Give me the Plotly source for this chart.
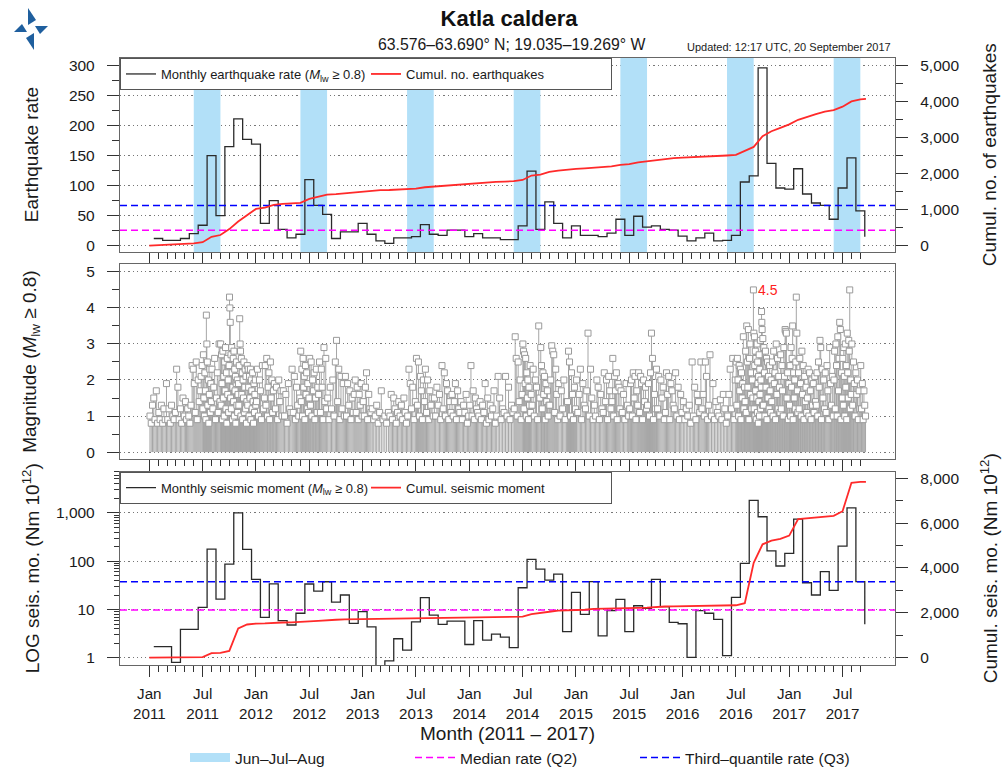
import numpy as np
import plotly.graph_objects as go

# ---------------- data ----------------
month_index = list(range(81))          # 0 = Jan 2011 ... 80 = Sep 2017
data_end_month = 80.63                 # data up to 20 September 2017

tick_months = [0, 6, 12, 18, 24, 30, 36, 42, 48, 54, 60, 66, 72, 78]
tick_labels = ["Jan<br>2011", "Jul<br>2011", "Jan<br>2012", "Jul<br>2012", "Jan<br>2013",
               "Jul<br>2013", "Jan<br>2014", "Jul<br>2014", "Jan<br>2015", "Jul<br>2015",
               "Jan<br>2016", "Jul<br>2016", "Jan<br>2017", "Jul<br>2017"]

quake_rate = [12, 9, 9, 12, 20, 34, 150, 50, 165, 211, 177, 169,
              37, 75, 27, 13, 19, 110, 67, 52, 12, 23, 23, 37,
              19, 8, 4, 13, 13, 15, 35, 19, 17, 26, 26, 15,
              20, 13, 13, 10, 10, 33, 124, 27, 73, 37, 13, 33,
              17, 17, 15, 21, 44, 17, 49, 31, 33, 27, 26, 16,
              8, 13, 21, 8, 9, 17, 106, 116, 296, 137, 96, 94,
              128, 86, 71, 67, 44, 96, 146, 58, 15]

seismic_moment = [1.71, 1.71, 0.81, 3.9, 3.9, 11.1, 178, 16.5, 87, 1000, 176, 42,
                  6.9, 34, 5.9, 4.8, 8.4, 33.8, 24, 37.6, 14.3, 20, 5.2, 9.1,
                  4.4, 0.5, 0.87, 2.5, 1.46, 5.6, 17.6, 7.7, 4.95, 5.8, 5.8, 1.9,
                  5.9, 2.35, 3.1, 2.7, 1.63, 28.3, 109, 68.8, 40.8, 54.2, 3.5, 22.7,
                  8.0, 37.7, 2.85, 9.5, 16.3, 3.5, 12.0, 10.6, 42, 11.5, 5.45, 5.1,
                  1.03, 9.5, 8.4, 6.3, 1.12, 17.9, 90, 1800, 828, 164, 79.5, 145,
                  740, 35.9, 20, 60.6, 25, 205, 1270, 37.7, 4.96]

summer_start = [5, 17, 29, 41, 53, 65, 77]   # June of each year (month index)
summer_length = 3                             # Jun-Jul-Aug

median_rate = 25.6
q3_rate = 66.7
median_moment = 9.8
q3_moment = 37.7

# event magnitudes, per month, in time order
mag_2011 = [
    [1.0, 0.8, 1.3, 1.5, 0.9, 1.7, 0.8],
    [1.1, 0.9, 1.3, 0.8, 1.2, 0.9, 1.9],
    [0.9, 1.2, 0.8, 1.3, 1.0, 0.9, 1.1],
    [2.3, 1.8, 0.9, 1.2, 0.8, 1.5, 1.0],
    [1.4, 0.9, 1.2, 1.0, 0.8, 1.3, 2.4, 2.3],
    [1.9, 1.1, 2.5, 0.9, 2.0, 1.4, 1.7, 2.1, 2.4],
    [1.2, 2.7, 1.5, 1.0, 2.2, 1.7, 0.9, 3.8, 3.0, 2.5, 1.3, 2.0, 0.8, 1.6, 2.3, 1.1, 1.9, 1.4],
    [2.3, 1.2, 1.8, 2.6, 0.9, 1.5, 2.2, 1.1, 3.0, 1.4],
    [3.0, 1.3, 2.7, 1.9, 0.9, 2.8, 1.5, 2.1, 1.0, 2.5, 1.7, 2.9, 1.2, 2.2, 0.8, 2.6, 1.6, 2.0, 1.1, 2.4],
    [4.3, 4.0, 3.6, 1.5, 2.7, 1.2, 2.9, 2.2, 0.9, 1.8, 2.6, 1.4, 2.8, 1.0, 2.3, 1.7, 2.1, 0.8, 1.9, 2.5, 1.3, 2.0, 1.1, 1.6],
    [1.9, 1.3, 2.4, 3.7, 3.0, 2.8, 1.0, 2.6, 1.6, 2.2, 0.9, 2.0, 1.5, 2.5, 1.1, 1.8, 2.3, 1.2, 2.1, 0.8, 1.4],
    [2.4, 1.3, 2.3, 1.8, 1.0, 2.1, 1.5, 2.3, 0.9, 2.0, 1.7, 1.2, 2.2, 1.4, 0.8, 1.9, 1.1, 1.6, 2.0, 1.3],
]
mag_2012 = [
    [1.4, 2.3, 1.0, 2.0, 1.7, 0.9, 2.4, 1.2, 1.5],
    [2.4, 1.3, 2.6, 1.0, 1.8, 2.2, 0.9, 2.5, 1.5, 2.0, 1.1, 1.7],
    [1.9, 1.2, 1.8, 0.9, 2.0, 1.4, 1.7, 1.0],
    [1.7, 1.0, 1.6, 0.8, 1.9, 1.2, 1.1],
    [2.3, 1.1, 2.1, 0.9, 1.8, 1.3, 1.0, 1.5],
    [2.8, 1.4, 2.3, 1.0, 2.6, 1.8, 2.1, 0.9, 2.4, 1.6, 2.2, 1.2, 1.9, 1.1, 1.5],
    [2.6, 1.3, 2.5, 1.0, 2.0, 1.7, 2.2, 0.9, 1.5, 2.3, 1.1, 1.8],
    [1.6, 2.5, 1.1, 2.3, 1.8, 0.9, 2.9, 1.4, 2.6, 1.2],
    [1.5, 0.9, 1.8, 1.2, 2.0, 1.0, 2.5],
    [3.1, 1.4, 2.3, 0.9, 2.1, 1.2, 1.9, 1.0],
    [2.1, 1.0, 1.9, 1.3, 1.7, 0.9, 1.5, 1.1],
    [1.6, 2.0, 1.1, 1.8, 0.9, 1.6, 1.3, 1.9, 1.0],
]
mag_2013 = [
    [1.4, 1.0, 1.8, 2.2, 0.9, 1.6, 1.2, 1.1],
    [1.2, 0.9, 1.0, 1.3, 0.8, 1.1],
    [1.7, 0.9, 1.0, 0.8, 1.1],
    [1.0, 1.6, 0.9, 1.5, 1.2, 0.8, 1.1],
    [1.4, 1.0, 1.3, 0.9, 1.5, 1.1, 0.8],
    [1.0, 2.3, 1.9, 1.2, 1.8, 0.9, 1.4],
    [2.6, 1.3, 2.5, 1.0, 2.1, 1.7, 0.9, 2.0, 1.4],
    [2.3, 1.1, 2.0, 0.9, 1.7, 1.3, 1.5, 1.0],
    [1.5, 1.0, 1.8, 1.3, 1.6, 0.9, 2.4],
    [1.2, 2.2, 1.0, 1.9, 1.7, 0.9, 1.4, 1.1],
    [1.6, 1.0, 1.4, 1.9, 0.9, 1.7, 1.2, 1.1],
    [1.4, 0.9, 1.3, 1.1, 1.6, 0.8, 1.0],
]
mag_2014 = [
    [1.3, 2.4, 1.0, 1.7, 0.9, 1.5, 1.2, 1.1],
    [1.0, 1.4, 0.9, 1.3, 1.1, 1.9, 0.8],
    [1.5, 0.9, 1.3, 1.0, 1.2, 1.7, 0.8],
    [1.0, 2.1, 1.5, 0.9, 1.2, 1.1],
    [2.1, 1.0, 1.8, 0.9, 1.3, 1.1],
    [1.2, 3.2, 2.6, 1.0, 2.5, 1.4, 2.0, 0.9, 1.6],
    [3.0, 2.8, 1.2, 2.7, 1.9, 2.6, 1.0, 2.2, 1.5, 2.0, 0.9, 1.8, 1.3, 2.4, 1.1, 1.6],
    [1.3, 2.3, 1.0, 2.0, 1.8, 0.9, 3.5, 1.5],
    [2.9, 2.4, 1.2, 2.2, 1.6, 2.1, 0.9, 1.9, 1.4, 1.7, 1.0, 1.3],
    [1.3, 2.0, 2.95, 2.8, 2.7, 1.1, 2.3, 1.6, 0.9],
    [1.9, 1.0, 1.7, 1.2, 2.0, 0.9, 1.4],
    [1.4, 2.8, 2.5, 1.0, 2.2, 1.6, 0.9, 1.8, 1.2],
]
mag_2015 = [
    [2.0, 1.1, 1.6, 2.3, 0.9, 1.9, 1.3],
    [1.2, 1.7, 3.3, 1.0, 2.3, 1.5, 0.9],
    [1.3, 1.0, 2.0, 1.8, 0.9, 1.6, 1.2],
    [1.1, 2.2, 1.4, 2.0, 0.9, 2.1, 1.7, 1.2],
    [1.4, 2.6, 1.0, 2.1, 1.7, 2.2, 0.9, 1.9, 1.8, 1.2],
    [1.7, 1.1, 1.6, 0.9, 1.9, 1.3, 1.0],
    [1.2, 1.9, 2.0, 1.0, 2.2, 1.5, 2.1, 0.9, 1.7, 1.3],
    [2.2, 1.1, 2.1, 1.9, 0.9, 2.0, 1.4, 1.8, 1.2],
    [1.3, 1.9, 1.0, 2.2, 3.3, 2.6, 0.9, 1.6, 1.2],
    [2.3, 1.2, 2.1, 1.0, 2.0, 1.5, 1.8, 0.9],
    [1.1, 2.2, 1.6, 2.1, 0.9, 1.9, 1.7, 1.3],
    [1.2, 2.2, 1.0, 1.8, 0.9, 1.6, 1.1],
]
mag_2016 = [
    [1.4, 0.9, 1.2, 1.0, 1.3, 0.8],
    [2.5, 1.0, 1.8, 0.9, 1.6, 1.4, 1.1],
    [2.5, 1.2, 1.6, 1.0, 2.5, 2.1, 0.9, 1.3],
    [2.7, 1.0, 1.9, 0.9, 1.4, 1.1],
    [1.0, 1.45, 0.9, 1.6, 1.2, 0.8],
    [1.0, 1.6, 2.3, 1.2, 2.6, 0.9, 2.0],
    [2.5, 1.3, 2.6, 2.0, 1.0, 2.4, 1.7, 2.3, 0.9, 2.2, 1.5, 1.9, 3.2, 1.2, 1.8],
    [1.4, 2.8, 1.1, 3.5, 2.5, 1.8, 3.4, 0.9, 2.6, 3.0, 1.6, 2.2, 1.2, 2.0, 1.5, 4.5],
    [3.3, 1.2, 3.2, 2.4, 1.0, 2.8, 1.7, 2.6, 0.9, 2.2, 1.5, 3.0, 1.1, 2.5, 1.9, 0.8,
     2.1, 1.4, 2.7, 1.0, 2.3, 1.6, 3.1, 1.2, 2.0, 1.8, 3.9, 3.6, 3.4, 1.3],
    [3.15, 1.3, 2.9, 2.2, 1.0, 2.8, 1.8, 2.6, 0.9, 2.5, 1.5, 2.1, 1.2, 2.4, 1.7, 1.1, 2.0],
    [1.4, 2.5, 1.0, 2.8, 1.9, 2.2, 0.9, 3.0, 1.6, 2.6, 1.2, 2.1, 1.8, 1.1],
    [2.7, 1.2, 2.4, 1.7, 1.0, 2.9, 2.1, 3.4, 3.35, 3.3, 1.5, 2.2, 0.9, 1.9],
]
mag_2017 = [
    [1.3, 2.4, 1.0, 2.9, 1.8, 2.6, 3.5, 0.9, 2.2, 1.5, 2.0, 1.2, 2.5, 4.3, 3.3, 1.7, 1.1],
    [2.2, 1.2, 2.6, 1.9, 1.0, 2.8, 1.6, 2.4, 0.9, 2.1, 1.4, 1.8, 1.1],
    [1.5, 2.3, 1.0, 2.2, 1.7, 0.9, 2.0, 1.3, 1.9, 1.1, 2.1, 1.4],
    [1.3, 2.2, 1.0, 2.5, 1.8, 3.1, 2.9, 0.9, 2.3, 1.5, 2.0, 1.2],
    [2.2, 1.1, 2.4, 1.7, 0.9, 2.9, 1.9, 1.3, 2.1, 1.0],
    [2.0, 2.8, 1.2, 3.0, 2.4, 1.0, 3.2, 1.7, 2.6, 3.6, 3.4, 0.9, 2.2, 1.5],
    [2.6, 1.3, 2.9, 2.1, 1.0, 3.0, 1.8, 2.4, 0.9, 3.3, 2.2, 1.5, 3.1, 2.8, 4.5, 1.2, 2.0, 1.6],
    [3.0, 1.3, 2.5, 1.9, 1.0, 2.2, 1.6, 2.0, 0.9, 1.7, 1.2],
    [2.4, 1.2, 1.9, 0.9, 1.7, 1.3, 1.0],
]

# ---------------- derived series ----------------
mag_by_month = mag_2011 + mag_2012 + mag_2013 + mag_2014 + mag_2015 + mag_2016 + mag_2017
ev_t, ev_m = [], []
for m, mags in enumerate(mag_by_month):
    span = min(1.0, data_end_month - m)
    n = len(mags)
    for k, v in enumerate(mags):
        ev_t.append(m + span * (k + 0.5) / n)
        ev_m.append(v)

stem_x, stem_y = [], []
for t, v in zip(ev_t, ev_m):
    stem_x += [t, t, None]
    stem_y += [0, v, None]

step_x = [m + 0.5 for m in month_index]
bound_x = month_index + [data_end_month]
cum_rate = [0] + list(np.cumsum(quake_rate))
cum_moment = [0] + list(np.cumsum(seismic_moment))

imax = int(np.argmax(ev_m))

# ---------------- style ----------------
FONT = "Liberation Sans, Arial, Helvetica, sans-serif"
AX_LINE = "#666666"
TICK_COL = "#333333"
GRID_COL = "#777777"
SHADE = "#b2e0f8"
RED = "#ff2a2a"
BLACK = "#2a2a2a"
BLUE = "#0000ff"
MAGENTA = "#ff00ff"
LOGO = "#1f5f9e"
DASH = "7px,4px"

x_range = [-3.3, 83.9]
rate_range = [-11, 312.3]
cum_rate_range = [r * 5000 / 300 for r in rate_range]
mag_range = [-0.2, 5.21]
logmom_range = [-0.145, 3.85]
cum_mom_range = [-326, 8294]

dom_top = [0.6799, 1.0]
dom_mid = [0.3389, 0.6601]
dom_bot = [0.0, 0.3185]

fig = go.Figure()

# summer (JJA) shading, full height of the top panel
fig.add_trace(go.Bar(x=[s + summer_length / 2 for s in summer_start],
                     y=[rate_range[1] - rate_range[0]] * len(summer_start),
                     base=rate_range[0], width=summer_length,
                     marker=dict(color=SHADE, line=dict(width=0)),
                     showlegend=False, xaxis="x", yaxis="y", hoverinfo="skip"))
# legend-only entry for the summer shading
fig.add_trace(go.Scatter(x=[None], y=[None], mode="lines", name="Jun\u2013Jul\u2013Aug",
                         line=dict(color=SHADE, width=9), legend="legend3", legendrank=1,
                         xaxis="x", yaxis="y", hoverinfo="skip"))

# top panel
fig.add_trace(go.Scatter(x=step_x, y=quake_rate, mode="lines", line_shape="hv",
                         line=dict(color=BLACK, width=1.3),
                         name="Monthly earthquake rate (<i>M</i><sub>lw</sub> \u2265 0.8)",
                         legend="legend", legendrank=1, xaxis="x", yaxis="y"))
fig.add_trace(go.Scatter(x=x_range, y=[median_rate, median_rate], mode="lines",
                         line=dict(color=MAGENTA, width=1.5, dash=DASH),
                         name="Median rate (Q2)", legend="legend3", legendrank=2,
                         xaxis="x", yaxis="y"))
fig.add_trace(go.Scatter(x=x_range, y=[q3_rate, q3_rate], mode="lines",
                         line=dict(color=BLUE, width=1.5, dash=DASH),
                         name="Third\u2013quantile rate (Q3)", legend="legend3", legendrank=3,
                         xaxis="x", yaxis="y"))
fig.add_trace(go.Scatter(x=bound_x, y=cum_rate, mode="lines",
                         line=dict(color=RED, width=1.8),
                         name="Cumul. no. earthquakes", legend="legend", legendrank=2,
                         xaxis="x", yaxis="y4"))

# middle panel
fig.add_trace(go.Scatter(x=stem_x, y=stem_y, mode="lines", line=dict(color="#a6a6a6", width=1),
                         showlegend=False, xaxis="x2", yaxis="y2", hoverinfo="skip"))
fig.add_trace(go.Scatter(x=ev_t, y=ev_m, mode="markers",
                         marker=dict(symbol="square", size=6, color="white",
                                     line=dict(color="#9a9a9a", width=1)),
                         showlegend=False, xaxis="x2", yaxis="y2"))

# bottom panel
fig.add_trace(go.Scatter(x=step_x, y=seismic_moment, mode="lines", line_shape="hv",
                         line=dict(color=BLACK, width=1.3),
                         name="Monthly seismic moment (<i>M</i><sub>lw</sub> \u2265 0.8)",
                         legend="legend2", legendrank=1, xaxis="x3", yaxis="y3"))
fig.add_trace(go.Scatter(x=x_range, y=[median_moment, median_moment], mode="lines",
                         line=dict(color=MAGENTA, width=1.5, dash=DASH), showlegend=False,
                         xaxis="x3", yaxis="y3"))
fig.add_trace(go.Scatter(x=x_range, y=[q3_moment, q3_moment], mode="lines",
                         line=dict(color=BLUE, width=1.5, dash=DASH), showlegend=False,
                         xaxis="x3", yaxis="y3"))
fig.add_trace(go.Scatter(x=bound_x, y=cum_moment, mode="lines",
                         line=dict(color=RED, width=1.8),
                         name="Cumul. seismic moment", legend="legend2", legendrank=2,
                         xaxis="x3", yaxis="y6"))

# ---------------- axes ----------------
xtickfont = dict(size=15.2, color="#1a1a1a", family=FONT)
ytickfont = dict(size=15.5, color="#1a1a1a", family=FONT)
minor_x = dict(tickmode="array", tickvals=month_index, ticks="outside", ticklen=6,
               tickwidth=1, tickcolor=TICK_COL)


def xaxis(anchor, labels):
    d = dict(range=x_range, anchor=anchor, domain=[0, 1], tickmode="array",
             tickvals=tick_months, ticks="outside", ticklen=11, tickwidth=1,
             tickcolor=TICK_COL, minor=minor_x, showgrid=False, zeroline=False,
             showline=True, linecolor=AX_LINE, linewidth=1.3, mirror=True,
             showticklabels=labels, tickfont=xtickfont)
    if labels:
        d.update(ticktext=tick_labels, ticklabelstandoff=4)
    if anchor != "y":
        d.update(matches="x")
    return d


def yaxis(**kw):
    d = dict(ticks="outside", ticklen=12, tickwidth=1, tickcolor=TICK_COL,
             zeroline=False, showline=True, linecolor=AX_LINE, linewidth=1.3,
             tickfont=ytickfont, ticklabelstandoff=9)
    d.update(kw)
    return d


grid = dict(showgrid=True, gridcolor=GRID_COL, griddash="1.2px,3px", gridwidth=1.2)
nogrid = dict(showgrid=False)
minor_y = dict(ticks="outside", ticklen=7, tickcolor=TICK_COL, tick0=0)

fig.update_layout(
    xaxis=xaxis("y", False),
    xaxis2=xaxis("y2", False),
    xaxis3=xaxis("y3", True),
    yaxis=yaxis(domain=dom_top, anchor="x", range=rate_range, tickmode="linear", tick0=0,
                dtick=50, minor=dict(dtick=25, **minor_y), mirror=True, **grid),
    yaxis4=yaxis(overlaying="y", side="right", anchor="x", range=cum_rate_range,
                 tickmode="linear", tick0=0, dtick=1000, tickformat=",d",
                 minor=dict(dtick=500, **minor_y), **nogrid),
    yaxis2=yaxis(domain=dom_mid, anchor="x2", range=mag_range, tickmode="linear", tick0=0,
                 dtick=1, minor=dict(dtick=0.5, **minor_y), mirror=True, **grid),
    yaxis5=yaxis(overlaying="y2", side="right", anchor="x2", range=mag_range,
                 tickmode="linear", tick0=0, dtick=1,
                 minor=dict(dtick=0.5, **minor_y), **nogrid),
    yaxis3=yaxis(domain=dom_bot, anchor="x3", type="log", range=logmom_range,
                 tickmode="array", tickvals=[1, 10, 100, 1000],
                 ticktext=["1", "10", "100", "1,000"],
                 minor=dict(tickmode="array",
                            tickvals=[k * 10 ** e for e in range(4) for k in range(2, 10)],
                            ticks="outside", ticklen=5, tickcolor=TICK_COL),
                 mirror=True, **grid),
    yaxis6=yaxis(overlaying="y3", side="right", anchor="x3", range=cum_mom_range,
                 tickmode="linear", tick0=0, dtick=2000, tickformat=",d",
                 minor=dict(dtick=1000, **minor_y), **nogrid),
)

# ---------------- legends ----------------
box_legend = dict(orientation="h", xanchor="left", yanchor="top", bgcolor="white",
                  bordercolor="#555555", borderwidth=1, itemwidth=30, entrywidth=200,
                  font=dict(size=13, family=FONT, color="#1a1a1a"), traceorder="normal")
fig.update_layout(
    showlegend=True,
    legend=dict(x=0, y=1, **box_legend),
    legend2=dict(x=0, y=dom_bot[1], **box_legend),
    legend3=dict(x=(185 - 120) / 775, y=(665 - 758) / 607, xanchor="left", yanchor="middle",
                 orientation="h", bgcolor="rgba(0,0,0,0)", borderwidth=0, itemwidth=40,
                 entrywidth=170, font=dict(size=15.5, family=FONT, color="#1a1a1a"),
                 traceorder="normal"),
)

# ---------------- logo (four-triangle pinwheel, top left) ----------------
def px_to_paper(px, py):
    return (px - 120) / 775, (665 - py) / 607


logo_center = (31, 29)
logo_parts = [
    [(-3, -21), (-3, -4), (5, -9)],
    [(17, -3), (4, -3), (9, 5)],
    [(3, 21), (3, 4), (-5, 9)],
    [(-17, 3), (-4, 3), (-9, -5)],
]
shapes = []
for tri in logo_parts:
    pts = [px_to_paper(logo_center[0] + dx, logo_center[1] + dy) for dx, dy in tri]
    path = "M " + " L ".join(f"{x:.5f},{y:.5f}" for x, y in pts) + " Z"
    shapes.append(dict(type="path", xref="paper", yref="paper", path=path,
                       fillcolor=LOGO, line=dict(width=0)))
fig.update_layout(shapes=shapes)

# ---------------- text ----------------
yt = dict(size=19, family=FONT, color="#1a1a1a")
left_x = (31 - 120) / 775
right_x = 1 + (989 - 895) / 775


def vtitle(text, x, y):
    return dict(text=text, x=x, y=y, xref="paper", yref="paper", xanchor="center",
                yanchor="middle", textangle=-90, showarrow=False, font=yt)


ann = [
    dict(text="63.576\u201363.690\u00b0 N; 19.035\u201319.269\u00b0 W", x=(511 - 120) / 775,
         y=(665 - 45) / 607, xref="paper", yref="paper", xanchor="center", yanchor="middle",
         showarrow=False, font=dict(size=15.8, family=FONT, color="#1a1a1a")),
    dict(text="Updated: 12:17 UTC, 20 September 2017", x=(893 - 120) / 775,
         y=(665 - 47) / 607, xref="paper", yref="paper", xanchor="right", yanchor="middle",
         showarrow=False, font=dict(size=11, family=FONT, color="#1a1a1a")),
    vtitle("Earthquake rate", left_x, sum(dom_top) / 2),
    vtitle("Magnitude (<i>M</i><sub>lw</sub> \u2265 0.8)", left_x, sum(dom_mid) / 2),
    vtitle("LOG seis. mo. (Nm 10<sup>12</sup>)", left_x, sum(dom_bot) / 2),
    vtitle("Cumul. no. of earthquakes", right_x, sum(dom_top) / 2),
    vtitle("Cumul. seis. mo. (Nm 10<sup>12</sup>)", right_x, sum(dom_bot) / 2),
    dict(text="Month (2011 \u2013 2017)", x=(507 - 120) / 775, y=(665 - 733) / 607, xref="paper",
         yref="paper", xanchor="center", yanchor="middle", showarrow=False,
         font=dict(size=19, family=FONT, color="#1a1a1a")),
    dict(text=f"{ev_m[imax]:.1f}", x=ev_t[imax], y=ev_m[imax], xref="x2", yref="y2",
         xanchor="left", yanchor="middle", xshift=3, showarrow=False,
         font=dict(size=14, family=FONT, color="#ff2020")),
]
fig.update_layout(annotations=ann)

fig.update_layout(
    width=1007, height=770,
    margin=dict(l=120, r=112, t=58, b=105, autoexpand=False),
    paper_bgcolor="white", plot_bgcolor="white",
    barmode="overlay",
    font=dict(family=FONT, color="#1a1a1a"),
    title=dict(text="<b>Katla caldera</b>", x=509 / 1007, xref="container", y=1 - 18 / 770,
               yref="container", xanchor="center", yanchor="middle",
               font=dict(size=22, family=FONT, color="#111111")),
    hovermode=False,
)

# page without the default 8px body margin so the figure sits at the window's corner
fig.write_html("out.html", config={"displayModeBar": False},
               post_script="document.body.style.margin='0px';")
